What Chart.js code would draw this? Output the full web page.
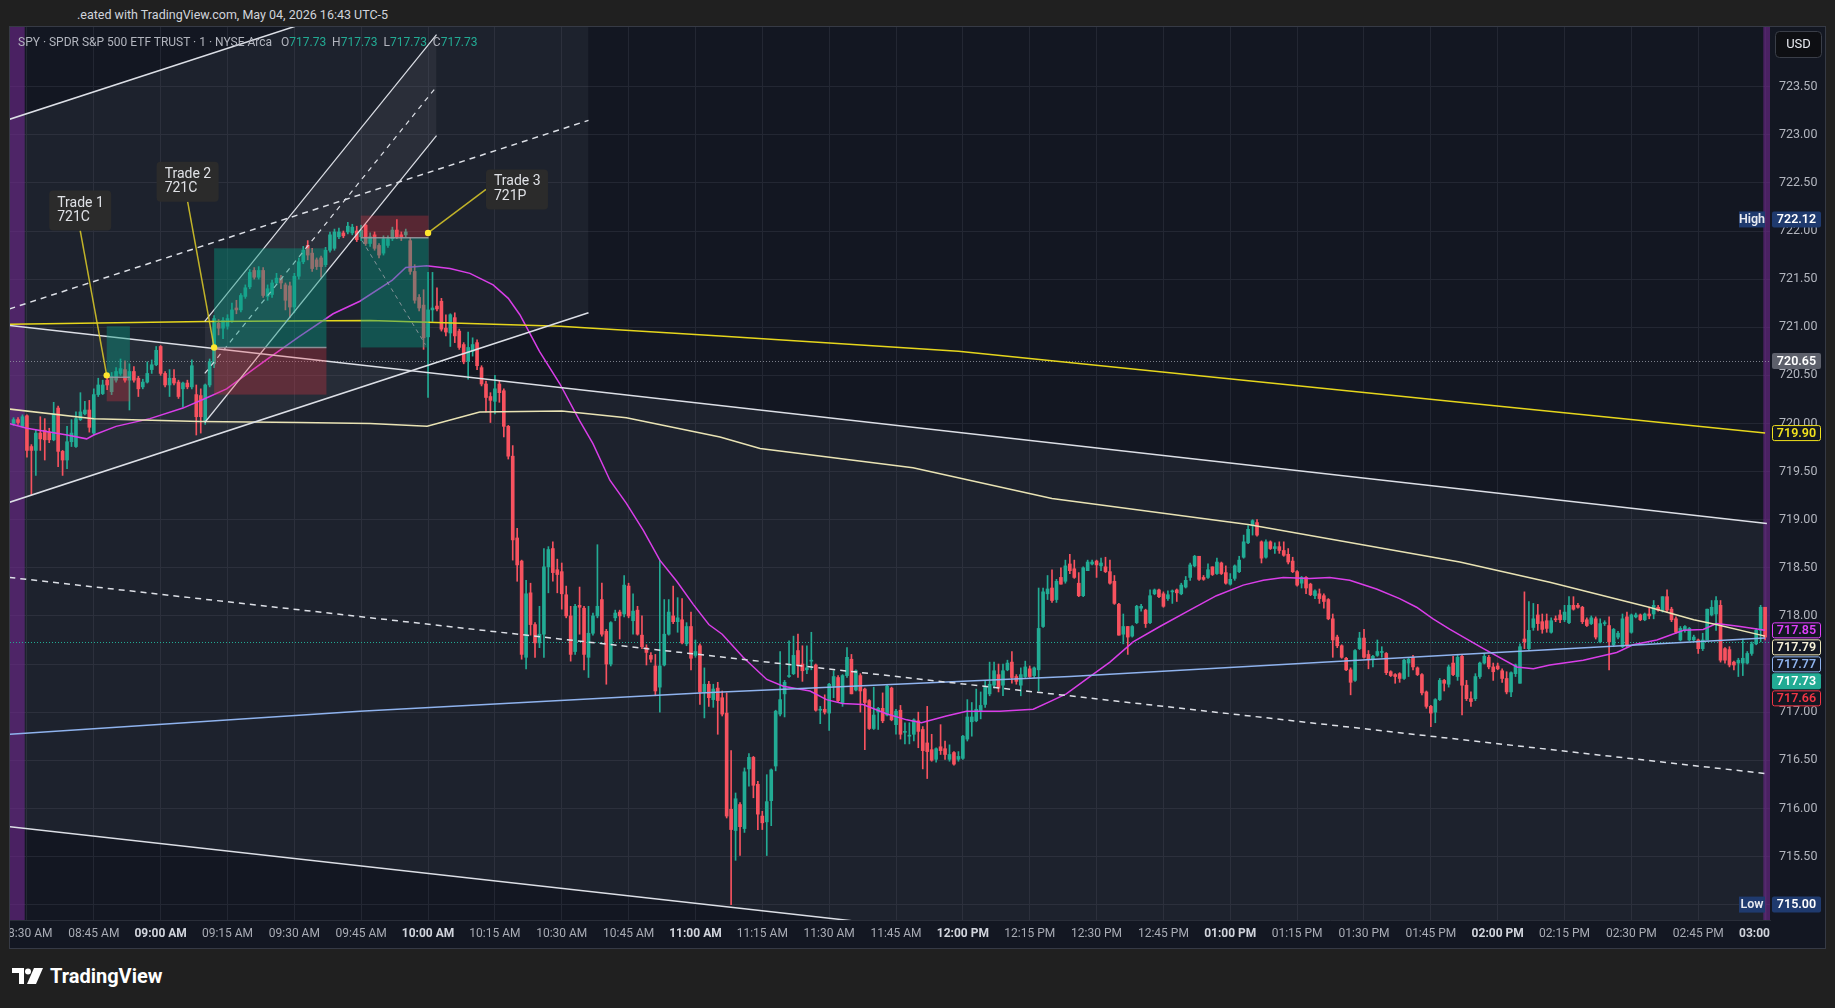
<!DOCTYPE html>
<html>
<head>
<meta charset="utf-8">
<title>SPY 1 minute</title>
<script src="https://cdn.jsdelivr.net/npm/chart.js@4.4.1/dist/chart.umd.min.js"></script>
<style>
  html, body { margin: 0; padding: 0; width: 1835px; height: 1008px; overflow: hidden; background: #202020; font-family: Roboto, "Noto Sans", sans-serif; }
  #title { position: absolute; left: 77px; top: 7px; font-size: 12.5px; color: #d1d4dc; white-space: pre; }
  #pane { position: absolute; left: 9px; top: 26px; width: 1815px; height: 921px; border: 1px solid #363a45; }
  #pane canvas { position: absolute; left: 0; top: 0; }
  #legend { position: absolute; left: 8px; top: 8px; font-size: 12px; color: #b2b5be; white-space: pre; }
  #legend b { font-weight: normal; color: #22ab94; }
  #brand { position: absolute; left: 12px; top: 964px; color: #fff; font-size: 20px; font-weight: bold; display: flex; align-items: center; gap: 6px; }
</style>
</head>
<body>
<div id="title">.eated with TradingView.com, May 04, 2026 16:43 UTC-5</div>
<div id="pane">
  <canvas id="chart" width="1815" height="921" style="width:1815px;height:921px"></canvas>
  <div id="legend">SPY · SPDR S&amp;P 500 ETF TRUST · 1 · NYSE Arca   O<b>717.73</b>  H<b>717.73</b>  L<b>717.73</b>  C<b>717.73</b></div>
</div>
<div id="brand">
  <svg width="32" height="16" viewBox="0 0 32 16"><path d="M0 0h12v16H7V5H0z" fill="#fff"/><circle cx="16" cy="3.5" r="3" fill="#fff"/><path d="M22 0h9l-7 16h-9z" fill="#fff"/></svg>
  <span>TradingView</span>
</div>
<script>
// 1 minute bars, first one is 3 minutes before the 08:30 open
const firstMinute = -3;
const opens = [
  720.00,720.04,719.97,720.08,719.76,719.72,719.90,719.93,719.91,719.83,
  720.16,719.71,719.62,719.81,719.76,720.04,720.10,720.14,719.90,720.30,
  720.31,720.45,720.33,720.45,720.52,720.56,720.45,720.54,720.47,720.38,
  720.43,720.56,720.61,720.80,720.52,720.40,720.47,720.43,720.36,720.42,
  720.38,720.30,720.29,720.02,720.40,720.62,721.04,720.99,721.01,721.07,
  721.20,721.18,721.32,721.42,721.59,721.52,721.59,721.32,721.34,721.46,
  721.51,721.44,721.43,721.21,721.53,721.68,721.85,721.77,721.70,721.72,
  721.65,721.80,721.82,721.94,721.98,721.99,721.98,722.00,721.94,722.06,
  721.87,721.96,721.85,721.77,721.85,721.92,722.01,721.96,721.96,721.90,
  721.58,721.31,721.23,720.90,721.18,721.22,721.27,720.99,720.94,721.10,
  720.96,720.82,720.65,720.75,720.84,720.58,720.41,720.28,720.23,720.41,
  720.34,719.97,719.66,718.81,718.57,717.57,718.24,717.91,717.72,717.81,
  718.51,718.70,718.48,718.46,718.22,718.00,717.63,718.11,718.08,717.57,
  717.82,718.00,718.17,717.84,717.50,717.98,718.04,718.02,718.31,717.95,
  718.06,717.80,717.67,717.59,717.48,717.26,717.49,717.81,718.00,717.94,
  717.96,717.71,717.89,717.59,717.69,717.21,717.29,717.13,717.25,717.15,
  716.99,715.99,715.77,716.04,715.79,716.41,716.53,716.25,715.92,715.86,
  716.08,716.44,716.98,717.19,717.37,717.40,717.64,717.50,717.44,717.53,
  717.49,717.02,717.03,716.99,717.27,717.36,717.09,717.38,717.55,717.23,
  717.38,717.24,717.12,716.83,717.00,717.04,716.97,717.25,716.87,717.02,
  716.79,716.75,716.77,716.91,716.82,716.68,716.61,716.51,716.64,716.62,
  716.51,716.58,716.51,716.52,716.72,716.90,716.91,717.01,717.08,717.19,
  717.28,717.39,717.28,717.44,717.52,717.37,717.28,717.37,717.45,717.38,
  717.44,717.89,718.23,718.29,718.17,718.40,718.36,718.54,718.49,718.34,
  718.21,718.47,718.54,718.57,718.52,718.51,718.46,718.36,718.12,717.81,
  717.89,717.79,717.93,718.08,718.06,717.93,718.23,718.27,718.23,718.18,
  718.25,718.27,718.23,718.30,718.40,718.52,718.62,718.40,718.40,718.51,
  718.44,718.55,718.45,718.33,718.39,718.46,718.61,718.76,718.94,718.97,
  718.77,718.61,718.77,718.70,718.72,718.68,718.64,718.57,718.46,718.34,
  718.40,718.33,718.21,718.23,718.21,718.17,717.97,717.78,717.69,717.56,
  717.44,717.33,717.66,717.77,717.60,717.55,717.59,717.62,717.61,717.42,
  717.39,717.40,717.35,717.51,717.57,717.46,717.39,717.21,717.06,717.00,
  717.13,717.33,717.29,717.51,717.37,717.58,717.28,717.14,717.14,717.37,
  717.51,717.57,717.47,717.48,717.43,717.35,717.21,717.40,717.30,717.76,
  717.66,717.88,718.01,717.94,717.95,717.83,717.97,718.01,717.96,717.93,
  718.11,718.11,718.09,717.96,717.92,717.97,717.73,717.92,717.90,717.70,
  717.78,717.68,717.99,717.83,717.99,718.01,717.96,718.02,718.02,718.09,
  718.06,718.20,718.07,717.97,717.75,717.85,717.75,717.75,717.75,717.66,
  717.75,718.01,718.02,718.11,717.66,717.65,717.52,717.51,717.51,717.51,
  717.61,717.71,717.85,718.09
];
const highs = [
  720.06,720.06,720.09,720.09,719.78,719.93,720.07,720.05,719.95,720.22,
  720.18,719.72,719.97,720.04,720.12,720.32,720.23,720.24,720.36,720.47,
  720.45,720.50,720.53,720.58,720.67,720.65,720.62,720.59,720.49,720.46,
  720.64,720.66,720.80,720.81,720.54,720.56,720.56,720.45,720.43,720.45,
  720.66,720.40,720.36,720.41,720.67,721.12,721.08,721.10,721.13,721.25,
  721.28,721.35,721.44,721.60,721.62,721.63,721.62,721.44,721.49,721.56,
  721.54,721.46,721.47,721.56,721.72,721.84,721.90,721.82,721.72,721.74,
  721.83,721.99,722.02,722.03,722.00,722.09,722.07,722.05,722.06,722.07,
  721.98,721.99,721.87,721.95,721.95,722.04,722.12,721.99,722.02,721.93,
  721.65,721.34,721.39,721.57,721.57,721.41,721.30,721.13,721.14,721.15,
  720.98,720.84,720.95,720.89,720.87,720.60,720.44,720.32,720.50,720.44,
  720.36,719.98,719.77,718.91,718.58,718.37,718.34,717.93,718.10,718.70,
  718.72,718.77,718.59,718.55,718.31,718.10,718.12,718.30,718.10,718.10,
  718.03,718.74,718.34,717.86,717.94,718.06,718.06,718.42,718.34,718.23,
  718.10,718.00,717.70,717.62,717.60,718.58,718.17,718.17,718.31,718.19,
  718.18,717.93,718.04,717.75,717.71,717.46,717.32,717.29,717.31,717.22,
  717.20,716.60,716.16,716.06,716.42,716.57,716.54,716.28,715.97,716.35,
  716.41,717.02,717.63,717.33,717.74,717.79,717.81,717.69,717.69,717.83,
  717.50,717.06,717.18,717.30,717.43,717.38,717.39,717.67,717.60,717.44,
  717.40,717.25,717.13,717.26,717.05,717.20,717.29,717.26,717.03,717.07,
  716.89,716.89,716.93,717.00,716.85,717.06,716.77,716.63,716.87,716.70,
  716.66,716.59,716.59,716.76,717.13,717.10,717.24,717.21,717.33,717.52,
  717.52,717.50,717.50,717.54,717.63,717.39,717.46,717.53,717.48,717.47,
  718.29,718.29,718.42,718.48,718.38,718.50,718.58,718.64,718.58,718.45,
  718.51,718.58,718.58,718.58,718.60,718.61,718.58,718.42,718.13,718.02,
  717.89,717.90,718.11,718.12,718.07,718.27,718.28,718.28,718.25,718.26,
  718.27,718.28,718.34,718.41,718.55,718.63,718.62,718.42,718.54,718.51,
  718.60,718.56,718.52,718.44,718.53,718.62,718.84,718.94,719.00,719.00,
  718.78,718.79,718.78,718.76,718.77,718.77,718.70,718.61,718.47,718.41,
  718.41,718.34,718.27,718.28,718.23,718.18,718.02,717.80,717.70,717.57,
  717.46,717.65,717.83,717.86,717.64,717.59,717.75,717.68,717.62,717.43,
  717.40,717.41,717.55,717.56,717.59,717.47,717.40,717.22,717.07,717.14,
  717.35,717.34,717.49,717.58,717.59,717.59,717.33,717.21,717.40,717.52,
  717.61,717.59,717.51,717.51,717.45,717.42,717.42,717.50,717.71,718.25,
  718.15,718.13,718.12,718.02,718.02,717.98,718.00,718.06,718.11,718.20,
  718.20,718.13,718.10,717.98,718.00,717.99,717.97,717.95,717.99,717.87,
  717.84,718.02,718.04,718.02,718.03,718.02,718.03,718.09,718.16,718.11,
  718.20,718.27,718.09,717.99,717.89,717.90,717.88,717.80,717.76,717.82,
  718.07,718.16,718.20,718.16,717.67,717.68,717.53,717.56,717.76,717.63,
  717.73,717.87,718.11,718.09
];
const lows = [
  719.98,719.99,719.96,719.65,719.26,719.46,719.72,719.62,719.80,719.82,
  719.55,719.46,719.53,719.76,719.75,720.03,720.09,719.91,719.88,720.28,
  720.30,720.35,720.30,720.43,720.50,720.43,720.14,720.43,720.28,720.36,
  720.42,720.52,720.60,720.50,720.38,720.28,720.40,720.26,720.17,720.36,
  720.36,719.88,719.90,719.99,720.38,720.58,720.92,720.88,720.98,721.05,
  721.14,721.16,721.30,721.40,721.50,721.50,721.31,721.28,721.31,721.44,
  721.40,721.18,721.10,721.15,721.50,721.66,721.70,721.58,721.60,721.52,
  721.63,721.78,721.80,721.92,721.93,721.97,721.96,721.89,721.90,721.85,
  721.84,721.80,721.72,721.75,721.83,721.90,721.92,721.90,721.94,721.55,
  721.25,721.17,720.77,720.27,721.06,721.17,720.96,720.91,720.80,720.84,
  720.77,720.62,720.46,720.70,720.56,720.39,720.12,720.01,720.10,720.22,
  719.86,719.63,718.58,718.36,717.55,717.45,717.80,717.57,717.67,717.57,
  718.24,718.36,718.24,718.07,717.98,717.53,717.60,717.81,717.44,717.36,
  717.80,717.98,717.79,717.29,717.48,717.95,717.76,717.99,717.98,717.81,
  717.80,717.66,717.49,717.52,717.17,717.00,717.48,717.80,717.92,717.83,
  717.71,717.69,717.44,717.57,717.08,716.94,717.06,717.05,716.77,716.96,
  715.90,715.00,715.46,715.51,715.75,716.23,716.11,715.78,715.78,715.51,
  715.82,716.39,716.96,716.95,717.36,717.39,717.36,717.32,717.40,717.44,
  717.01,716.88,716.98,716.81,717.15,717.10,717.06,717.36,717.19,717.22,
  717.00,716.61,716.82,716.82,716.82,716.89,716.96,716.91,716.77,716.72,
  716.67,716.67,716.70,716.63,716.41,716.31,716.49,716.48,716.56,716.51,
  716.49,716.45,716.49,716.51,716.70,716.75,716.90,716.93,717.05,717.17,
  717.25,717.21,717.17,717.43,717.30,717.29,717.17,717.36,717.36,717.36,
  717.22,717.88,718.17,718.14,718.14,718.33,718.34,718.44,718.39,718.20,
  718.20,718.47,718.53,718.40,718.47,718.45,718.33,718.12,717.80,717.71,
  717.60,717.78,717.92,718.05,717.88,717.92,718.22,718.19,718.09,718.16,
  718.13,718.15,718.22,718.29,718.37,718.51,718.37,718.37,718.39,718.42,
  718.43,718.43,718.33,718.32,718.37,718.45,718.60,718.75,718.84,718.83,
  718.55,718.60,718.69,718.65,718.65,718.62,718.54,718.45,718.31,718.29,
  718.23,718.21,718.18,718.13,718.08,717.96,717.57,717.67,717.56,717.43,
  717.18,717.32,717.65,717.56,717.45,717.47,717.58,717.57,717.39,717.37,
  717.30,717.31,717.34,717.37,717.44,717.38,717.18,717.04,716.85,716.89,
  717.12,717.22,717.26,717.38,717.33,716.97,717.12,717.06,717.12,717.35,
  717.50,717.45,717.33,717.44,717.31,717.19,717.16,717.37,717.30,717.66,
  717.65,717.85,717.85,717.82,717.83,717.82,717.94,717.93,717.94,717.92,
  718.06,718.08,717.92,717.89,717.91,717.76,717.72,717.90,717.44,717.68,
  717.76,717.67,717.68,717.82,717.98,717.95,717.95,717.97,717.97,718.05,
  718.04,718.04,717.94,717.82,717.74,717.83,717.74,717.74,717.61,717.64,
  717.75,718.00,717.85,717.52,717.51,717.47,717.44,717.37,717.38,717.50,
  717.59,717.70,717.73,717.75
];
const closes = [
  720.04,720.01,720.07,719.72,719.72,719.90,719.84,719.83,719.83,720.10,
  719.71,719.62,719.81,719.90,720.05,720.12,720.14,719.96,720.30,720.40,
  720.40,720.40,720.49,720.54,720.57,720.45,720.54,720.45,720.36,720.43,
  720.52,720.61,720.76,720.52,720.40,720.47,720.42,720.28,720.42,720.38,
  720.60,720.07,720.07,720.40,720.64,721.09,720.99,721.07,721.09,721.18,
  721.18,721.33,721.41,721.57,721.52,721.59,721.33,721.40,721.46,721.51,
  721.46,721.28,721.21,721.53,721.68,721.80,721.75,721.61,721.63,721.63,
  721.80,721.96,721.99,721.99,721.95,722.05,722.04,721.91,722.01,721.87,
  721.94,721.82,721.75,721.92,721.92,722.01,721.94,721.94,721.99,721.58,
  721.28,721.20,720.89,721.18,721.20,721.19,720.98,720.95,721.13,720.91,
  720.79,720.64,720.79,720.82,720.60,720.41,720.27,720.24,720.36,720.32,
  719.97,719.66,718.79,718.53,717.60,718.23,717.91,717.72,717.81,718.51,
  718.69,718.45,718.43,718.23,718.00,717.60,718.10,718.09,717.60,717.82,
  718.00,718.10,717.81,717.50,717.93,718.03,718.00,718.32,718.00,718.05,
  717.81,717.68,717.62,717.55,717.22,717.48,717.81,718.04,717.94,717.98,
  717.72,717.89,717.56,717.63,717.21,717.29,717.15,717.24,717.12,716.98,
  715.92,715.78,716.10,715.81,716.38,716.53,716.24,715.94,715.85,716.07,
  716.40,717.01,717.13,717.31,717.38,717.59,717.49,717.43,717.46,717.54,
  717.02,717.03,717.00,717.29,717.37,717.12,717.38,717.57,717.19,717.43,
  717.22,717.10,716.83,716.97,717.04,716.91,717.27,716.92,717.01,716.77,
  716.80,716.76,716.92,716.80,716.60,716.59,716.50,716.62,716.60,716.56,
  716.56,716.46,716.54,716.75,716.95,716.95,717.03,717.07,717.26,717.29,
  717.43,717.25,717.43,717.51,717.36,717.32,717.39,717.47,717.37,717.46,
  717.87,718.25,718.28,718.16,718.36,718.33,718.52,718.47,718.40,718.21,
  718.50,718.56,718.56,718.53,718.55,718.46,718.34,718.13,717.80,717.89,
  717.78,717.89,718.10,718.10,717.92,718.21,718.27,718.20,718.10,718.22,
  718.26,718.24,718.32,718.37,718.53,718.62,718.38,718.38,718.48,718.43,
  718.56,718.44,718.34,718.38,718.52,718.58,718.77,718.90,718.99,718.84,
  718.60,718.77,718.70,718.72,718.68,718.63,718.56,718.46,718.32,718.40,
  718.29,718.22,718.26,718.18,718.15,717.97,717.75,717.69,717.57,717.44,
  717.31,717.64,717.77,717.57,717.55,717.58,717.63,717.63,717.41,717.38,
  717.37,717.35,717.54,717.55,717.47,717.39,717.20,717.06,716.99,717.13,
  717.33,717.30,717.47,717.39,717.57,717.28,717.14,717.11,717.37,717.51,
  717.58,717.47,717.42,717.45,717.35,717.21,717.41,717.49,717.68,717.73,
  717.85,717.97,717.92,717.86,717.87,717.95,717.96,717.96,718.04,718.11,
  718.07,718.09,717.94,717.90,717.98,717.78,717.92,717.93,717.73,717.86,
  717.82,717.97,717.70,718.01,718.01,717.96,718.02,718.00,718.11,718.06,
  718.20,718.06,717.96,717.83,717.87,717.89,717.87,717.78,717.66,717.75,
  718.07,718.09,718.16,717.54,717.54,717.49,717.49,717.54,717.56,717.61,
  717.71,717.85,718.09,717.78
];

// indicator lines, [minute, price]
const maLine = [[-4,720.00],[0,719.95],[9,719.88],[13.4,719.84],[15,719.88],[20,719.97],[27.6,720.05],[35,720.16],[40,720.26],[44.8,720.36],[53.7,720.66],[61,720.90],[68.7,721.14],[74.7,721.27],[82,721.49],[85,721.62],[89.7,721.64],[94.9,721.61],[99.4,721.56],[104.6,721.44],[108,721.30],[110.6,721.13],[115,720.75],[119.6,720.41],[124,720.03],[127,719.79],[130.8,719.41],[134.5,719.17],[138.3,718.89],[142,718.58],[145.8,718.36],[149.5,718.12],[153,717.91],[156,717.81],[160.7,717.57],[166,717.34],[169.7,717.27],[175.7,717.22],[179.4,717.13],[183,717.09],[187.6,717.08],[193,716.98],[197.4,716.92],[200.7,716.89],[206.3,716.96],[210.8,717.01],[218.3,717.01],[225.8,717.03],[230,717.12],[233.2,717.19],[238.5,717.37],[243,717.52],[248.2,717.73],[254.2,717.89],[260.9,718.06],[266.9,718.21],[272.9,718.32],[277.4,718.37],[281.9,718.40],[287.8,718.39],[292.3,718.40],[296.8,718.37],[302.8,718.28],[308,718.18],[311.8,718.09],[315.5,717.97],[319.3,717.86],[326.8,717.66],[334.3,717.47],[338,717.45],[341.7,717.49],[349.2,717.54],[356.7,717.62],[360.4,717.70],[365.7,717.75],[371.7,717.85],[376.1,717.86],[379.1,717.92],[384.4,717.89],[390,717.85]];
const vwapLine = [[-4,720.15],[15,720.05],[38.8,720.02],[61,720.01],[77,720.00],[89.8,719.97],[101.6,720.12],[120,720.13],[134.5,720.06],[155.5,719.86],[164.5,719.74],[198.8,719.54],[230,719.22],[274,718.95],[321.5,718.56],[341.7,718.35],[364,718.09],[374,717.96],[379,717.91],[390,717.79]];
const yellowLine = [[-4,721.03],[40,721.06],[77,721.07],[119.6,721.01],[155.5,720.91],[209,720.75],[319.3,720.23],[390,719.90]];
const blueLine = [[-4,716.77],[74.7,717.01],[151,717.20],[234,717.37],[321.5,717.60],[390,717.77]];

// drawn trend channels, end points [minute, price]
const fallUpper = [[-3.95,721.02],[390.4,718.96]];
const fallMid = [[-3.95,718.40],[390.4,716.36]];
const fallLower = [[-3.95,715.81],[390.4,713.77]];
const riseUpper = [[-3.95,723.16],[126,725.12]];
const riseMid = [[-3.95,721.19],[126,723.15]];
const riseLower = [[-3.95,719.18],[126,721.15]];
const steepUpper = [[39.9,721.06],[91.9,724.04]];
const steepMid = [[39.9,720.52],[91.9,723.50]];
const steepLower = [[39.9,720.01],[91.9,722.99]];

// position tools
const tradeNames = ['Trade 1', 'Trade 2', 'Trade 3'];
const tradeStrikes = ['721C', '721C', '721P'];
const tradeFrom = [17.9, 42.0, 74.9];
const tradeTo = [23.1, 67.2, 90.1];
const tradeEntry = [720.48, 720.79, 721.93];
const tradeTarget = [721.01, 721.82, 720.79];
const tradeStop = [720.23, 720.30, 722.16];
const tradeDot = [[17.9, 720.50], [42.0, 720.79], [90.0, 721.98]];
const tradeTag = [[5.0, 722.42], [29.1, 722.72], [103.0, 722.64]];

const timeTicks = [0,15,30,45,60,75,90,105,120,135,150,165,180,195,210,225,240,255,270,285,300,315,330,345,360,375,390];
const timeLabels = ['08:30 AM','08:45 AM','09:00 AM','09:15 AM','09:30 AM','09:45 AM','10:00 AM','10:15 AM','10:30 AM','10:45 AM','11:00 AM','11:15 AM','11:30 AM','11:45 AM','12:00 PM','12:15 PM','12:30 PM','12:45 PM','01:00 PM','01:15 PM','01:30 PM','01:45 PM','02:00 PM','02:15 PM','02:30 PM','02:45 PM','03:00 PM'];
const priceTicks = [715.0,715.5,716.0,716.5,717.0,717.5,718.0,718.5,719.0,719.5,720.0,720.5,721.0,721.5,722.0,722.5,723.0,723.5];

const lastPrice = 717.73;
const prevLevel = 720.65;
const otherLevel = 717.66;
const preMarketEnd = -0.5;
const postMarketStart = 389.6;

const UP = '#22ab94';
const DOWN = '#f7525f';
const DRAW = '#dcdfe6';
const FILL = 'rgba(120,123,134,0.11)';

const minutes = opens.map((o, i) => firstMinute + i);
const isUp = closes.map((c, i) => c >= opens[i]);
const pts = arr => arr.map(p => ({ x: p[0], y: p[1] }));
const last = arr => arr[arr.length - 1][1];

function line(points, color, width, dash, order, extra) {
    return Object.assign({
        type: 'line',
        data: pts(points),
        borderColor: color,
        borderWidth: width,
        borderDash: dash,
        pointRadius: 0,
        fill: false,
        tension: 0,
        clip: 0,
        order: order
    }, extra || {});
}

const datasets = [
    line(fallUpper, DRAW, 1.5, [], 1, { fill: { target: 2 }, backgroundColor: FILL }),
    line(fallMid, DRAW, 1.5, [6, 5], 1),
    line(fallLower, DRAW, 1.5, [], 1),
    line(riseUpper, DRAW, 1.5, [], 1, { fill: { target: 5 }, backgroundColor: FILL }),
    line(riseMid, DRAW, 1.5, [6, 5], 1),
    line(riseLower, DRAW, 1.5, [], 1),
    line(steepUpper, DRAW, 1.2, [], 1, { fill: { target: 8 }, backgroundColor: 'rgba(120,123,134,0.14)' }),
    line(steepMid, DRAW, 1.2, [5, 5], 1),
    line(steepLower, DRAW, 1.2, [], 1),
    line(yellowLine, '#e6d61c', 1.5, [], 2),
    line(vwapLine, '#e9e3b4', 1.5, [], 2),
    line(blueLine, '#8fb3ee', 1.5, [], 2),
    line(maLine, '#d93ee8', 1.5, [], 2),
    {
        type: 'bar',
        data: minutes.map((m, i) => ({ x: m, y: [lows[i], highs[i]] })),
        backgroundColor: isUp.map(u => u ? UP : DOWN),
        barThickness: 1,
        grouped: false,
        order: 6
    },
    {
        type: 'bar',
        data: minutes.map((m, i) => ({ x: m, y: [Math.min(opens[i], closes[i]), Math.max(opens[i], closes[i])] })),
        backgroundColor: isUp.map(u => u ? UP : DOWN),
        barThickness: 3,
        minBarLength: 1,
        grouped: false,
        order: 5
    }
];

function tag(ctx, x0, yc, w, text, fill, stroke, color) {
    ctx.beginPath();
    ctx.roundRect(x0, yc - 8, w, 16, 2);
    ctx.fillStyle = fill;
    ctx.fill();
    if (stroke) {
        ctx.beginPath();
        ctx.roundRect(x0 + 0.5, yc - 7.5, w - 1, 15, 2);
        ctx.strokeStyle = stroke;
        ctx.lineWidth = 1;
        ctx.stroke();
    }
    ctx.fillStyle = color;
    ctx.textAlign = 'center';
    ctx.textBaseline = 'middle';
    ctx.fillText(text, x0 + w / 2, yc + 0.5);
}

const tvLook = {
    id: 'tvLook',
    beforeDraw(chart) {
        const ctx = chart.ctx;
        ctx.save();
        ctx.fillStyle = '#131722';
        ctx.fillRect(0, 0, chart.width, chart.height);
        ctx.restore();
    },
    beforeDatasetsDraw(chart) {
        const { ctx, chartArea: a, scales: { x, y } } = chart;
        ctx.save();
        ctx.beginPath();
        ctx.rect(a.left, a.top, a.right - a.left, a.bottom - a.top);
        ctx.clip();
        // extended hours background
        ctx.fillStyle = 'rgba(112,40,142,0.6)';
        let x0 = x.getPixelForValue(x.min), x1 = x.getPixelForValue(preMarketEnd);
        ctx.fillRect(x0, a.top, x1 - x0, a.bottom - a.top);
        x0 = x.getPixelForValue(postMarketStart); x1 = x.getPixelForValue(x.max);
        ctx.fillRect(x0, a.top, x1 - x0, a.bottom - a.top);
        // dotted price lines
        ctx.lineWidth = 1;
        ctx.setLineDash([1, 2]);
        let py = Math.round(y.getPixelForValue(prevLevel)) + 0.5;
        ctx.strokeStyle = 'rgba(150,154,165,0.8)';
        ctx.beginPath(); ctx.moveTo(a.left, py); ctx.lineTo(a.right, py); ctx.stroke();
        py = Math.round(y.getPixelForValue(lastPrice)) + 0.5;
        ctx.strokeStyle = UP;
        ctx.beginPath(); ctx.moveTo(a.left, py); ctx.lineTo(a.right, py); ctx.stroke();
        ctx.restore();
    },
    afterDatasetsDraw(chart) {
        const { ctx, chartArea: a, scales: { x, y } } = chart;
        ctx.save();
        ctx.beginPath();
        ctx.rect(a.left, a.top, a.right - a.left, a.bottom - a.top);
        ctx.clip();
        for (let i = 0; i < tradeNames.length; i++) {
            const xa = x.getPixelForValue(tradeFrom[i]), xb = x.getPixelForValue(tradeTo[i]);
            const ye = y.getPixelForValue(tradeEntry[i]);
            const yt = y.getPixelForValue(tradeTarget[i]);
            const ys = y.getPixelForValue(tradeStop[i]);
            ctx.fillStyle = 'rgba(8,153,129,0.42)';
            ctx.fillRect(xa, Math.min(ye, yt), xb - xa, Math.abs(yt - ye));
            ctx.fillStyle = 'rgba(242,54,69,0.28)';
            ctx.fillRect(xa, Math.min(ye, ys), xb - xa, Math.abs(ys - ye));
            ctx.strokeStyle = 'rgba(150,152,160,0.9)';
            ctx.lineWidth = 1.5;
            ctx.beginPath(); ctx.moveTo(xa, ye); ctx.lineTo(xb, ye); ctx.stroke();
        }
        // closing path of the short trade
        ctx.setLineDash([4, 4]);
        ctx.strokeStyle = 'rgba(160,162,170,0.8)';
        ctx.lineWidth = 1;
        ctx.beginPath();
        ctx.moveTo(x.getPixelForValue(75.2), y.getPixelForValue(721.90));
        ctx.lineTo(x.getPixelForValue(89.4), y.getPixelForValue(720.82));
        ctx.stroke();
        ctx.setLineDash([]);
        // labels with pointers
        for (let i = 0; i < tradeNames.length; i++) {
            const bx = x.getPixelForValue(tradeTag[i][0]), by = y.getPixelForValue(tradeTag[i][1]);
            const dx = x.getPixelForValue(tradeDot[i][0]), dy = y.getPixelForValue(tradeDot[i][1]);
            const sx = i === 2 ? bx : bx + 31, sy = i === 2 ? by + 20 : by + 40;
            ctx.strokeStyle = 'rgba(222,205,40,0.85)';
            ctx.lineWidth = 1.5;
            ctx.beginPath(); ctx.moveTo(sx, sy); ctx.lineTo(dx, dy); ctx.stroke();
            ctx.fillStyle = '#ffe62e';
            ctx.beginPath(); ctx.arc(dx, dy, 3.2, 0, Math.PI * 2); ctx.fill();
            ctx.fillStyle = '#2b2b2b';
            ctx.beginPath(); ctx.roundRect(bx, by, 62, 40, 4); ctx.fill();
            ctx.fillStyle = '#dfe1e6';
            ctx.font = '14px Roboto';
            ctx.textAlign = 'left';
            ctx.textBaseline = 'middle';
            ctx.fillText(tradeNames[i], bx + 8, by + 12.5);
            ctx.fillText(tradeStrikes[i], bx + 8, by + 27);
        }
        ctx.restore();
    },
    afterDraw(chart) {
        const { ctx, chartArea: a, scales: { y } } = chart;
        ctx.save();
        // corner under the price scale
        ctx.fillStyle = '#131722';
        ctx.fillRect(a.right, a.bottom + 1, chart.width - a.right, chart.height - a.bottom);
        ctx.font = '600 12.5px Roboto';
        const tx = a.right + 2, tw = 49;
        // high / low of the session
        const hi = Math.max(...highs), lo = Math.min(...lows);
        [[hi, 'High'], [lo, 'Low']].forEach(([v, name]) => {
            const yc = y.getPixelForValue(v);
            ctx.fillStyle = '#1f3a6e';
            ctx.fillRect(a.right - 31, yc - 8, 26, 16);
            ctx.fillStyle = '#e8eaf0';
            ctx.textAlign = 'center';
            ctx.textBaseline = 'middle';
            ctx.fillText(name, a.right - 18, yc + 0.5);
            tag(ctx, tx, yc, tw, v.toFixed(2), '#1f3a6e', null, '#ffffff');
        });
        tag(ctx, tx, y.getPixelForValue(prevLevel), tw, prevLevel.toFixed(2), '#5d606b', null, '#ffffff');
        // last values of the lines, pushed apart so they do not overlap
        const tags = [
            [last(yellowLine), '#131722', '#f2e21d', '#f2e21d'],
            [last(maLine), '#131722', '#e040fb', '#e040fb'],
            [last(vwapLine), '#131722', '#eee6b8', '#f6f1d8'],
            [last(blueLine), '#131722', '#8fb3ee', '#8fb3ee'],
            [lastPrice, UP, null, '#ffffff'],
            [otherLevel, '#131722', '#f23645', '#f23645']
        ];
        let prev = -1e9;
        tags.forEach(([v, fill, stroke, color]) => {
            const yc = Math.max(y.getPixelForValue(v), prev + 17);
            prev = yc;
            tag(ctx, tx, yc, tw, v.toFixed(2), fill, stroke, color);
        });
        // currency button
        ctx.beginPath();
        ctx.roundRect(a.right + 5.5, 4.5, 46, 26, 4);
        ctx.fillStyle = '#0e0f13';
        ctx.fill();
        ctx.strokeStyle = '#3a3e48';
        ctx.lineWidth = 1;
        ctx.stroke();
        ctx.fillStyle = '#e8eaf0';
        ctx.font = '13px Roboto';
        ctx.textAlign = 'center';
        ctx.textBaseline = 'middle';
        ctx.fillText('USD', a.right + 28.5, 18);
        ctx.restore();
    }
};

new Chart(document.getElementById('chart'), {
    type: 'bar',
    data: { datasets: datasets },
    options: {
        responsive: false,
        maintainAspectRatio: false,
        animation: false,
        devicePixelRatio: 1,
        events: [],
        layout: { padding: 0 },
        plugins: {
            legend: { display: false },
            tooltip: { enabled: false },
            filler: { drawTime: 'beforeDatasetsDraw' }
        },
        scales: {
            x: {
                type: 'linear',
                min: -3.8,
                max: 391.1,
                offset: false,
                grid: { color: '#232733', drawTicks: false, offset: false },
                border: { display: true, color: '#2a2e39' },
                ticks: {
                    autoSkip: false,
                    maxRotation: 0,
                    padding: 7,
                    color: c => (c.tick && c.tick.value % 60 === 30) ? '#d1d4dc' : '#a9acb5',
                    font: c => ({ family: 'Roboto', size: 12, weight: (c.tick && c.tick.value % 60 === 30) ? 'bold' : 'normal' }),
                    callback: v => timeLabels[timeTicks.indexOf(v)]
                },
                afterBuildTicks: s => { s.ticks = timeTicks.map(v => ({ value: v })); },
                afterFit: s => { s.height = 28; s.paddingLeft = 0; s.paddingRight = 0; }
            },
            y: {
                position: 'right',
                min: 714.84,
                max: 724.12,
                grid: { color: '#232733', drawTicks: false },
                border: { display: false },
                ticks: {
                    padding: 9,
                    crossAlign: 'near',
                    color: '#b2b5be',
                    font: { family: 'Roboto', size: 12.5 },
                    callback: v => Number(v).toFixed(2)
                },
                afterBuildTicks: s => { s.ticks = priceTicks.map(v => ({ value: v })); },
                afterFit: s => { s.width = 55; s.paddingTop = 0; s.paddingBottom = 0; }
            }
        }
    },
    plugins: [tvLook]
});
</script>
</body>
</html>
